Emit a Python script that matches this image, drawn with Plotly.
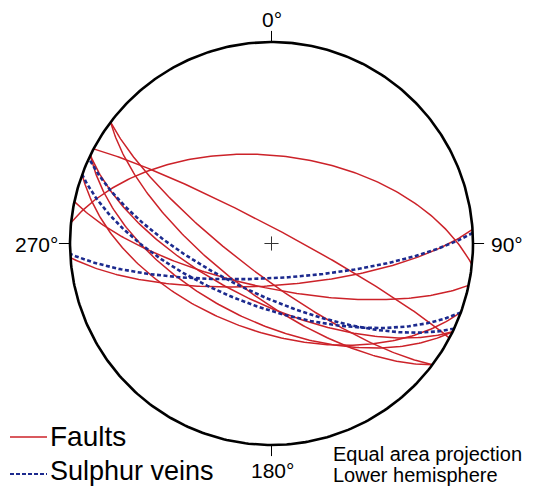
import numpy as np
import plotly.graph_objects as go

# Planes (right-hand rule strike, dip) read from the stereonet
fault_strikes = [276, 298, 127, 127, 116, 116, 102, 86, 110]
fault_dips    = [54,  84,  77,  69,  58,  66,  72,  73, 54]
vein_strikes  = [115, 110, 87]
vein_dips     = [69,  64,  76]
dir_labels = ["0°", "90°", "180°", "270°"]

RED = "#cc2229"
BLUE = "#1c2a8e"
FONT = "Liberation Sans, Arial, sans-serif"


def great_circle(strike, dip, n=181):
    s = np.radians(strike)
    d = np.radians(dip)
    dd = s + np.pi / 2
    th = np.linspace(0, np.pi, n)
    sv = np.array([np.sin(s), np.cos(s), 0.0])
    dv = np.array([np.cos(d) * np.sin(dd), np.cos(d) * np.cos(dd), np.sin(d)])
    v = np.outer(np.cos(th), sv) + np.outer(np.sin(th), dv)
    trend = np.arctan2(v[:, 0], v[:, 1])
    plunge = np.arcsin(np.clip(v[:, 2], -1, 1))
    r = np.sqrt(2) * np.sin((np.pi / 2 - plunge) / 2)
    return r * np.sin(trend), r * np.cos(trend)


fig = go.Figure()

for s, d in zip(fault_strikes, fault_dips):
    x, y = great_circle(s, d)
    fig.add_trace(go.Scatter(x=x, y=y, mode="lines",
                             line=dict(color=RED, width=1.5),
                             hoverinfo="skip", showlegend=False))
for s, d in zip(vein_strikes, vein_dips):
    x, y = great_circle(s, d)
    fig.add_trace(go.Scatter(x=x, y=y, mode="lines",
                             line=dict(color=BLUE, width=2.6, dash="4px,2.5px"),
                             hoverinfo="skip", showlegend=False))

# primitive circle
t = np.linspace(0, 2 * np.pi, 400)
fig.add_trace(go.Scatter(x=np.cos(t), y=np.sin(t), mode="lines",
                         line=dict(color="black", width=2.6),
                         hoverinfo="skip", showlegend=False))

shapes = []
tick = 0.055
for ang in [0, 90, 180, 270]:
    a = np.radians(ang)
    shapes.append(dict(type="line", xref="x", yref="y",
                       x0=np.sin(a), y0=np.cos(a),
                       x1=(1 + tick) * np.sin(a), y1=(1 + tick) * np.cos(a),
                       line=dict(color="black", width=1)))
c = 0.035
shapes.append(dict(type="line", xref="x", yref="y", x0=-c, y0=0, x1=c, y1=0,
                   line=dict(color="#333", width=1)))
shapes.append(dict(type="line", xref="x", yref="y", x0=0, y0=-c, x1=0, y1=c,
                   line=dict(color="#333", width=1)))

CX, CY, R = 271.5, 243.5, 201.5
def px(xp, yp):
    return (xp - CX) / R, (CY - yp) / R

x0, y0 = px(10, 437)
x1, _ = px(47, 437)
shapes.append(dict(type="line", xref="x", yref="y", x0=x0, y0=y0, x1=x1, y1=y0,
                   line=dict(color=RED, width=1.5)))
x0, y0 = px(10, 474)
x1, _ = px(47, 474)
shapes.append(dict(type="line", xref="x", yref="y", x0=x0, y0=y0, x1=x1, y1=y0,
                   line=dict(color=BLUE, width=2, dash="4px,2px")))

ann = []
def text(xp, yp, s, size, xanchor="left"):
    x, y = px(xp, yp)
    ann.append(dict(x=x, y=y, xref="x", yref="y", text=s, showarrow=False,
                    xanchor=xanchor, yanchor="middle",
                    font=dict(family=FONT, size=size, color="black")))

text(272, 19, dir_labels[0], 21, "center")
text(489, 244, dir_labels[1], 21, "left")
text(272, 470, dir_labels[2], 21, "center")
text(60, 244, dir_labels[3], 21, "right")
text(48, 436, "Faults", 28)
text(48, 471, "Sulphur veins", 27)
text(331, 454, "Equal area projection", 20)
text(331, 475, "Lower hemisphere", 20)

fig.update_layout(
    width=548, height=488,
    margin=dict(l=0, r=0, t=0, b=0),
    paper_bgcolor="white", plot_bgcolor="white",
    xaxis=dict(range=[(0 - CX) / R, (548 - CX) / R], visible=False, fixedrange=True),
    yaxis=dict(range=[(CY - 488) / R, CY / R], visible=False, fixedrange=True),
    shapes=shapes, annotations=ann, showlegend=False,
)

fig.write_html("out.html", config={"displayModeBar": False},
               post_script="document.body.style.margin='0';document.body.style.overflow='hidden';")
